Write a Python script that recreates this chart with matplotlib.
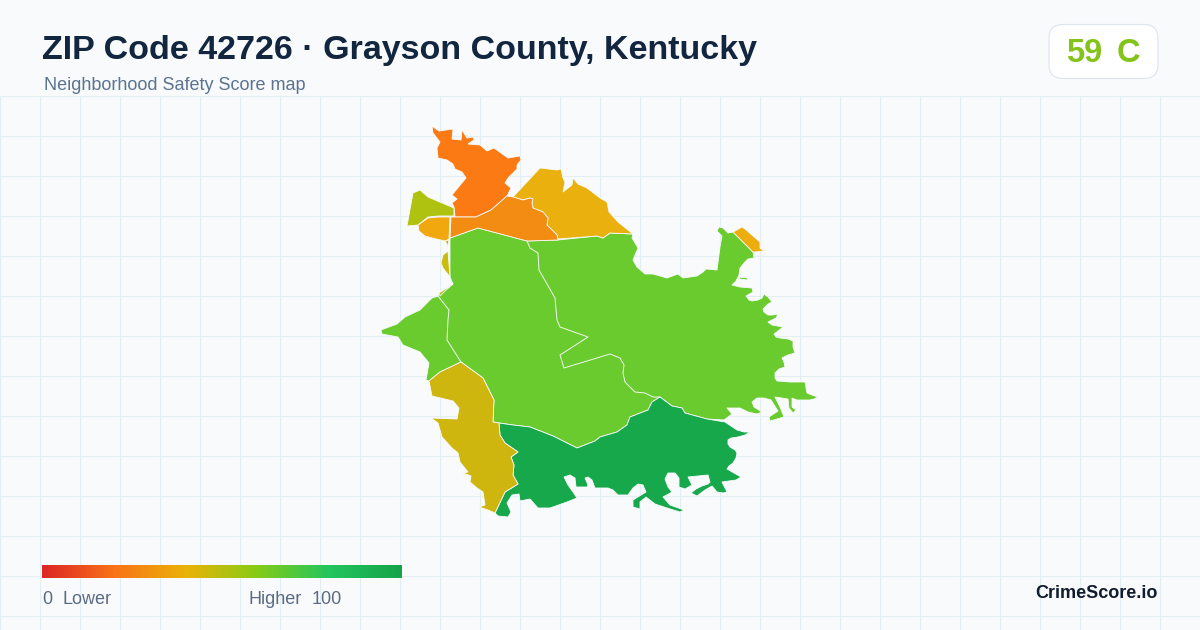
import numpy as np
import matplotlib
matplotlib.use('Agg')
import matplotlib.pyplot as plt
from matplotlib.colors import LinearSegmentedColormap
from matplotlib.patches import FancyBboxPatch, Polygon

plt.rcParams['font.family'] = ['Liberation Sans', 'DejaVu Sans']

TITLE = "ZIP Code 42726 · Grayson County, Kentucky"
SUBTITLE = "Neighborhood Safety Score map"
SCORE = "59"
GRADE = "C"
BRAND = "CrimeScore.io"

north_orange = [(432,126),(439,131),(453,129),(452,139),(461,140),(462,130),(467,138),(473,137),(474,140),(468,144),
                (480,145),(487,151),(494,148),(501,153),(508,158),(520,156),(521,160),(517,165),(517,169),(508,178),
                (505,183),(511,188),(507,196),(491,210),(476,217),(455,217),(454,207),(452,203),(457,199),(452,195),
                (466,178),(462,172),(455,169),(453,164),(447,160),(438,158),(437,148),(440,142),(433,133)]
north_east_gold = [(513,197),(540,168),(557,170),(561,169),(563,178),(565,182),(563,192),(572,185),(573,178),(578,184),
                   (587,188),(600,198),(607,202),(609,212),(618,222),(633,234),(610,233),(603,238),(597,236),(558,239),
                   (557,235),(547,225),(548,218),(543,212),(533,208),(532,203),(533,199),(530,198),(523,200)]
middle_orange = [(507,196),(513,197),(523,200),(530,198),(533,199),(532,203),(533,208),(543,212),(548,218),(547,225),
                 (557,235),(558,240),(527,241),(478,228),(450,238),(451,217),(476,217),(491,210)]
west_amber = [(418,225),(428,218),(438,217),(450,217),(449,239),(445,241),(432,238),(425,236),(419,231)]
west_amber_bit = [(445,241),(449,240),(448,246)]
north_west_olive = [(407,226),(413,193),(420,190),(428,197),(454,208),(454,216),(438,216),(428,217),(418,225)]
sliver_a = [(448,251),(450,277),(443,268),(441,263),(443,255)]
sliver_b = [(439,293),(453,284),(445,291),(440,296)]
east_tip_amber = [(733,232),(742,227),(745,229),(760,242),(760,248),(764,251),(755,252),(753,252)]
east_speck = [(739,277),(748,278),(747,280),(740,279)]

main_green = [(450,238),(478,228),(527,241),(558,240),(597,236),(603,238),(610,233),(633,234),(632,238),(638,248),
              (633,260),(637,267),(645,274),(653,274),(667,278),(678,274),(683,278),(697,276),(703,272),(706,269),
              (717,270),(720,247),(722,236),(717,231),(719,227),(723,228),(728,233),(733,232),(753,252),(754,258),
              (748,259),(744,263),(740,268),(739,275),(736,281),(732,285),(740,287),(752,288),(753,292),(746,296),
              (749,300),(752,301),(758,300),(762,298),(764,294),(768,297),(772,302),(768,304),(763,309),(764,312),
              (768,315),(773,315),(778,314),(776,318),(768,322),(772,325),(783,327),(778,331),(774,334),(776,337),
              (780,338),(788,339),(793,341),(793,347),(795,353),(788,355),(782,358),(784,362),(785,367),(779,369),
              (775,373),(775,378),(777,381),(790,382),(805,382),(806,388),(807,393),(812,395),(818,397),(814,399),
              (810,400),(797,400),(792,398),(792,407),(796,410),(793,413),(789,408),(788,399),(775,397),(780,407),
              (784,417),(770,421),(769,417),(778,411),(771,400),(764,398),(757,398),(752,402),(754,407),(762,412),
              (757,414),(748,412),(740,408),(727,408),(732,414),(724,420),(707,419),(685,413),(682,408),(672,406),
              (660,397),(652,402),(648,410),(630,417),(627,425),(617,432),(600,437),(595,441),(577,448),(553,436),
              (530,427),(513,425),(499,423),(493,422),(494,400),(483,378),(461,362),(440,372),(429,381),(426,380),
              (429,363),(420,352),(403,345),(398,337),(382,334),(381,330),(397,324),(405,317),(420,310),(432,298),
              (438,296),(439,293),(453,284),(450,277)]
south_green = [(499,423),(513,425),(530,427),(553,436),(577,448),(595,441),(600,437),(617,432),(627,425),(630,417),
               (648,410),(652,402),(660,397),(672,406),(682,408),(685,413),(707,419),(725,422),(737,430),(744,432),
               (750,432),(745,435),(738,437),(731,438),(728,440),(728,444),(730,447),(735,450),(737,453),(736,458),
               (733,463),(729,466),(727,469),(734,473),(741,477),(736,480),(722,482),(727,492),(723,493),(717,492),
               (712,486),(705,490),(697,496),(691,493),(696,489),(702,486),(708,484),(710,482),(708,475),(698,476),
               (688,477),(692,485),(685,489),(679,487),(679,478),(675,473),(668,473),(665,479),(668,487),(672,492),
               (663,497),(670,505),(684,510),(680,512),(667,508),(655,504),(646,497),(640,502),(640,509),(633,507),
               (633,500),(646,492),(643,485),(638,484),(633,488),(628,495),(618,495),(613,490),(608,488),(595,488),
               (592,480),(588,477),(585,478),(588,485),(587,487),(576,487),(575,478),(570,475),(564,477),(568,485),
               (573,492),(577,498),(567,502),(550,508),(538,508),(530,499),(520,501),(519,494),(512,495),(507,503),
               (511,512),(508,517),(498,516),(495,513),(505,492),(518,484),(513,475),(514,465),(511,457),(518,452),
               (505,443),(500,435)]
south_west_gold = [(461,362),(483,378),(494,400),(493,422),(499,423),(500,435),(505,443),(518,452),(511,457),(514,465),
                   (513,475),(518,484),(505,492),(495,513),(488,510),(479,507),(485,505),(483,492),(477,488),(470,482),
                   (471,476),(463,473),(468,472),(460,462),(458,453),(452,448),(442,437),(438,423),(431,418),(457,419),
                   (459,408),(453,401),(432,396),(429,381),(440,372)]

# white borders between the tracts that share the same green
west_border = [(438,296),(449,310),(448,320),(447,340),(461,362)]
centre_border = [(527,241),(530,248),(538,253),(539,270),(555,298),(557,320),(560,327),(588,337),(560,355),(564,368),
                 (610,354),(620,358),(624,365),(623,373),(625,382),(635,392),(645,393),(653,397),(660,397)]

regions = [main_green, south_green, south_west_gold, north_orange, north_east_gold, middle_orange,
           west_amber, west_amber_bit, north_west_olive, sliver_a, sliver_b, east_tip_amber, east_speck]
region_colors = ["#69CB2D", "#17A84B", "#CFB60F", "#FC7A14", "#EAB00D", "#F38C13",
                 "#F0A80E", "#D9B30E", "#AEC20F", "#C9BC10", "#B4BE10", "#EDAD0C", "#69CB2D"]
borders = [west_border, centre_border]

legend_stops = [0, 0.2, 0.4, 0.6, 0.8, 1]
legend_colors = ["#DC2626", "#F97316", "#EAB308", "#84CC16", "#22C55E", "#16A34A"]

fig = plt.figure(figsize=(12, 6.3), dpi=100, facecolor="#F8FAFC")
ax = fig.add_axes([0, 0, 1, 1])
ax.axis("off")

# background grid, below the header only
ax.vlines(np.arange(0, 1200, 40), 96, 630, color="#E3EEF2", lw=0.75, zorder=1)
ax.hlines(np.arange(96, 630, 40), 0, 1200, color="#E3EEF2", lw=0.75, zorder=1)

for outline, color in zip(regions, region_colors):
    ax.add_patch(Polygon(outline, closed=True, facecolor=color, edgecolor="#F8FAFC",
                         lw=0.6, joinstyle="round", zorder=2))
for line in borders:
    xs, ys = zip(*line)
    ax.plot(xs, ys, color="#F4F8F0", lw=0.7, zorder=3)

ax.text(42, 50, TITLE, fontsize=24.5, fontweight="bold", color="#12263F", va="center", ha="left")
ax.text(44, 85.5, SUBTITLE, fontsize=13, color="#5B7390", va="center", ha="left")

# score badge
ax.add_patch(FancyBboxPatch((1049, 24.5), 109, 54, boxstyle="round,pad=0,rounding_size=14",
                            fc="#FFFFFF", ec="#DEE4EC", lw=0.8, zorder=4))
ax.text(1066, 53, SCORE, fontsize=23.5, fontweight="bold", color="#84C41A", va="center", ha="left", zorder=5)
ax.text(1140, 53, GRADE, fontsize=23.5, fontweight="bold", color="#84C41A", va="center", ha="right", zorder=5)

# legend bar
cmap = LinearSegmentedColormap.from_list("score", list(zip(legend_stops, legend_colors)))
ax.imshow(np.linspace(0, 1, 360).reshape(1, -1), cmap=cmap, aspect="auto",
          extent=(42, 402, 578, 565), zorder=2)
ax.set_xlim(0, 1200)
ax.set_ylim(630, 0)

ax.text(42, 599, "0", fontsize=13, color="#5B6B85", va="center", ha="left")
ax.text(62, 599, "Lower", fontsize=13, color="#5B6B85", va="center", ha="left")
ax.text(249, 599, "Higher", fontsize=13, color="#5B6B85", va="center", ha="left")
ax.text(342, 599, "100", fontsize=13, color="#5B6B85", va="center", ha="right")
ax.text(1158, 594, BRAND, fontsize=13, fontweight="bold", color="#111C2E", va="center", ha="right")

fig.savefig("out.png", dpi=100, facecolor=fig.get_facecolor())
